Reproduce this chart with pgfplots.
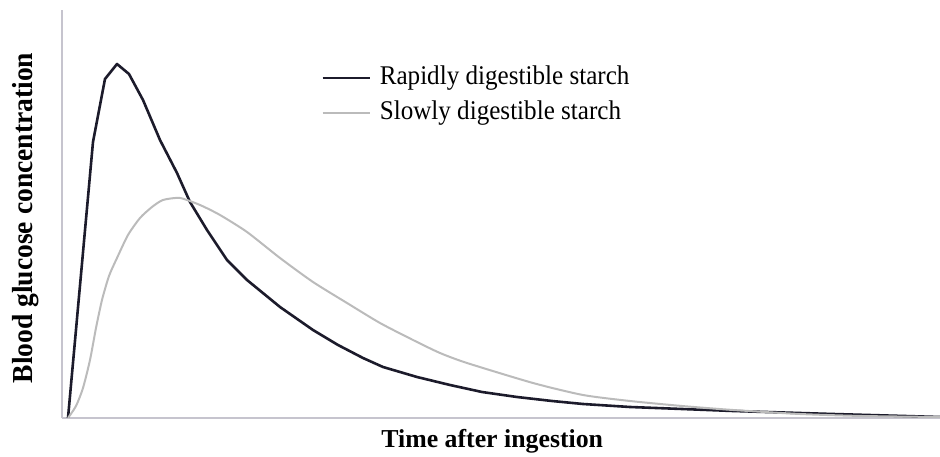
\documentclass[border=0pt]{standalone}
\usepackage{fontspec}
\setmainfont{Liberation Serif}
\newfontfamily\narrowserif[FakeStretch=0.93]{Liberation Serif}
\newfontfamily\labelserif[FakeStretch=0.95]{Liberation Serif}
\usepackage{pgfplots}
\pgfplotsset{compat=1.18}
\usepackage{pgfplotstable}

\definecolor{rapid}{HTML}{1C1B2B}
\definecolor{slow}{HTML}{BBBBBB}
\definecolor{axisgray}{HTML}{C6C4CE}

% x: time (arbitrary units), y: concentration (arbitrary units)
\pgfplotstableread{
t c
6 0
31 276
43 339
55 354
67 344
81 318
98 278
115 245
128 216
145 188
165 158
185 138
218 111
251 88
276 73
301 60
321 51
355 41
388 33
420 26
455 21
490 17
521 14
568 11
620 9
671 7
771 4
878 1
}\rapid

\pgfplotstableread{
t c
6 0
14 12
21 30
28 58
34 90
40 118
47 142
55 160
66 183
78 200
90 211
101 218
118 220
138 213
158 203
185 186
218 160
251 136
285 115
318 95
351 78
378 65
405 55
471 35
521 23
568 17
620 12
671 8
738 4
800 2
878 1
}\slow

\begin{document}
\begin{tikzpicture}
\begin{axis}[
  scale only axis,
  width=878pt, height=408pt,
  xmin=0, xmax=878, ymin=0, ymax=408,
  axis lines=left,
  axis line style={-, draw=axisgray, line width=1.6pt},
  ticks=none,
  xlabel={Time after ingestion},
  ylabel={Blood glucose concentration},
  xlabel style={at={(axis description cs:0.49,0)}, anchor=base, yshift=-30pt,
    inner sep=0pt, font=\fontsize{25.8}{30}\selectfont\bfseries},
  ylabel style={at={(axis description cs:0,0.49)}, anchor=base, yshift=29pt,
    inner sep=0pt, font=\labelserif\fontsize{29}{34}\selectfont\bfseries},
  legend style={draw=none, fill=none, at={(axis description cs:0.295,0.79)},
    anchor=west, inner sep=0pt, row sep=10pt,
    font=\narrowserif\fontsize{27}{32}\selectfont,
    nodes={inner sep=0pt, text height=19pt, text depth=6pt}},
  legend cell align=left,
  legend image code/.code={\draw[#1] (0pt,0pt) -- (47pt,0pt);},
  /tikz/every odd column/.append style={column sep=9pt},
]
\addplot[rapid, line width=2.6pt, line join=round] table[x=t, y=c] {\rapid};
\addlegendentry{Rapidly digestible starch}
\addplot[slow, line width=2pt, smooth, tension=0.4] table[x=t, y=c] {\slow};
\addlegendentry{Slowly digestible starch}
\end{axis}
\pgfresetboundingbox
\path ([xshift=-62pt,yshift=-39pt]current axis.south west) rectangle ([yshift=10pt]current axis.north east);
\end{tikzpicture}
\end{document}
